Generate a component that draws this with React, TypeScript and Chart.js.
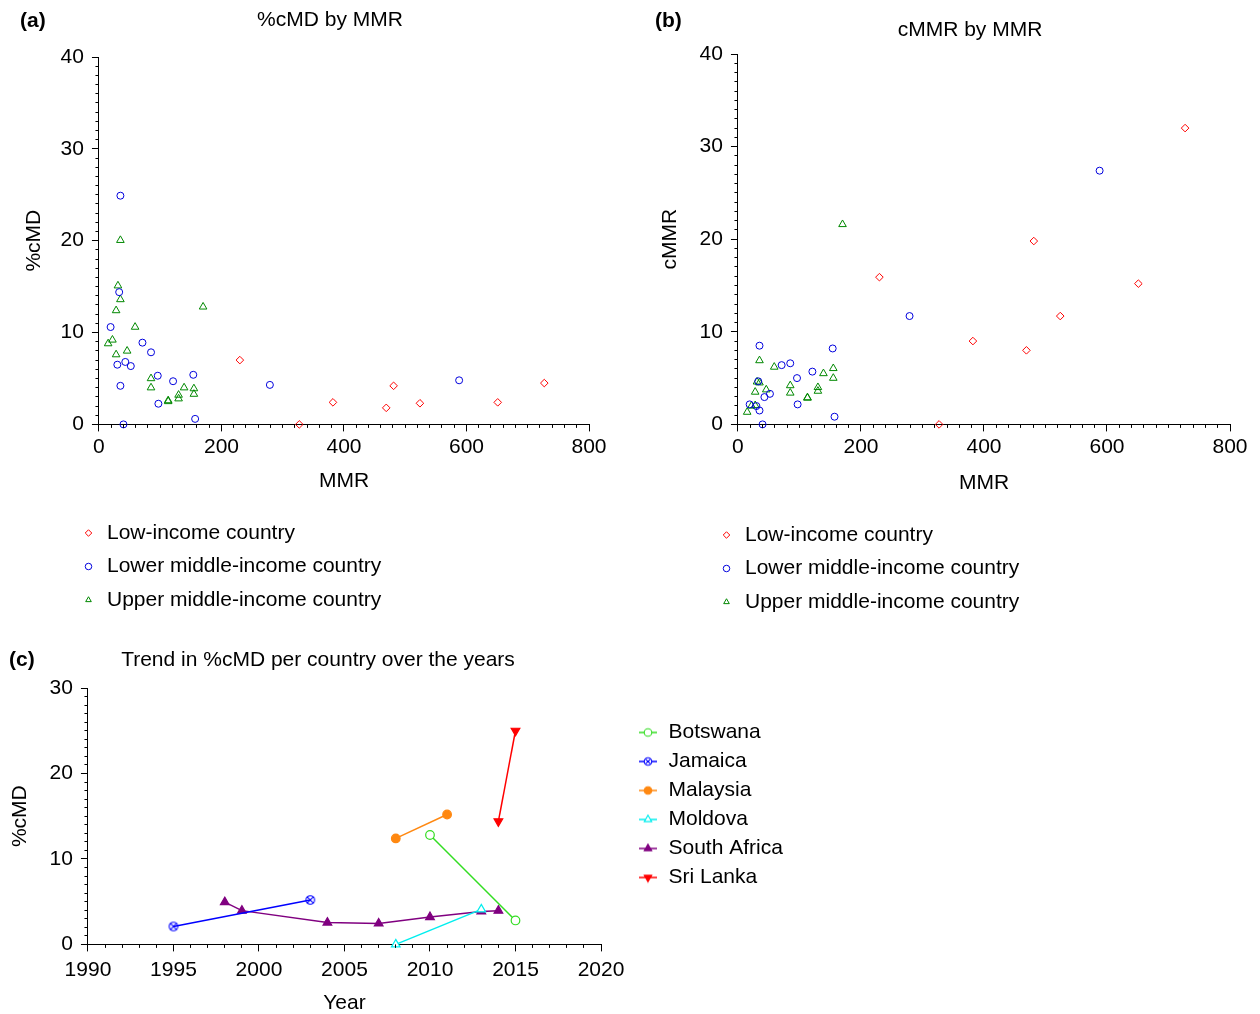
import React, { useEffect, useRef } from "react";
import { Chart, registerables } from "chart.js";

Chart.register(...registerables);

const FONT_FAMILY = '"Liberation Sans", Arial, Helvetica, sans-serif';
Chart.defaults.font.family = FONT_FAMILY;
Chart.defaults.font.size = 21;
Chart.defaults.color = "#000";

// ---------------- Panels (a) and (b) ----------------
const incomeLabels = ["Low-income country", "Lower middle-income country", "Upper middle-income country"];
const incomeColors = ["#ff0000", "#0000dd", "#008800"];
const incomeStyles = ["rectRot", "circle", "triangle"];
const incomeRadii = [3.8, 3.5, 4.4];

// Low-income countries
const lowMMR = [230, 327, 382, 469, 481, 524, 651, 727];
const lowCMD = [7.0, 0, 2.4, 1.8, 4.2, 2.3, 2.4, 4.5];
const lowCMMR = [15.9, 0, 9.0, 8.0, 19.8, 11.7, 15.2, 32.0];

// Lower middle-income countries
const lmMMR = [35, 33, 19, 71, 85, 30, 43, 52, 35, 96, 121, 154, 97, 157, 40, 279, 588];
const lmCMD = [24.9, 14.4, 10.6, 8.9, 7.85, 6.5, 6.8, 6.35, 4.2, 5.3, 4.7, 5.4, 2.25, 0.6, 0, 4.3, 4.8];
const lmCMMR = [8.5, 4.65, 2.16, 6.4, 6.6, 1.98, 2.95, 3.3, 1.5, 5.0, 5.7, 8.2, 2.16, 0.83, 0, 11.7, 27.4];

// Upper middle-income countries
const umMMR = [35, 31, 35, 28, 170, 59, 22, 15, 28, 46, 85, 85, 113, 113, 130, 130, 139, 155, 155];
const umCMD = [20.05, 15.1, 13.6, 12.4, 12.8, 10.6, 9.2, 8.8, 7.6, 8.0, 5.0, 4.0, 2.6, 2.5, 3.2, 2.8, 4.0, 3.9, 3.3];
const umCMMR = [6.9, 4.6, 4.5, 3.5, 21.6, 6.2, 2.0, 1.33, 2.05, 3.75, 4.2, 3.4, 2.9, 2.85, 4.0, 3.6, 5.5, 6.05, 5.0];

const groupMMR = [lowMMR, lmMMR, umMMR];
const groupCMD = [lowCMD, lmCMD, umCMD];
const groupCMMR = [lowCMMR, lmCMMR, umCMMR];

const mmrTicks = [0, 200, 400, 600, 800];
const pctTicks = [0, 10, 20, 30, 40];

// ---------------- Panel (c) ----------------
const countries = ["Botswana", "Jamaica", "Malaysia", "Moldova", "South Africa", "Sri Lanka"];
const countryColors = ["#33dd22", "#0000ff", "#ff8811", "#00eeee", "#800080", "#ff0000"];
const countryMarkers = ["circle", "circleX", "circle", "triangle", "triangle", "triangleDown"];
const countryFilled = [false, false, true, false, true, true];

const botswanaYears = [2010, 2015];
const botswanaCMD = [12.8, 2.8];
const jamaicaYears = [1995, 2003];
const jamaicaCMD = [2.1, 5.2];
const malaysiaYears = [2008, 2011];
const malaysiaCMD = [12.4, 15.2];
const moldovaYears = [2008, 2013];
const moldovaCMD = [0, 4.1];
const southAfricaYears = [1998, 1999, 2004, 2007, 2010, 2013, 2014];
const southAfricaCMD = [4.95, 3.95, 2.55, 2.45, 3.2, 3.85, 3.95];
const sriLankaYears = [2014, 2015];
const sriLankaCMD = [14.4, 25.0];

const trendYears = [botswanaYears, jamaicaYears, malaysiaYears, moldovaYears, southAfricaYears, sriLankaYears];
const trendCMD = [botswanaCMD, jamaicaCMD, malaysiaCMD, moldovaCMD, southAfricaCMD, sriLankaCMD];

const yearTicks = [1990, 1995, 2000, 2005, 2010, 2015, 2020];
const trendTicks = [0, 10, 20, 30];

// ---------------- helpers ----------------
const minorTicksPlugin = {
  id: "minorTicks",
  afterDraw(chart: any, _args: any, opts: any) {
    const list = opts && opts.axes;
    if (!list) return;
    const { ctx, chartArea } = chart;
    ctx.save();
    ctx.strokeStyle = "#000";
    ctx.lineWidth = 1;
    ctx.beginPath();
    for (let k = 0; k < list.length; k++) {
      const a = list[k];
      const s = chart.scales[a.id];
      if (!s) continue;
      const n = Math.round((s.max - s.min) / a.step);
      for (let i = 0; i <= n; i++) {
        const p = Math.round(s.getPixelForValue(s.min + i * a.step) - 0.5) + 0.5;
        if (s.isHorizontal()) {
          ctx.moveTo(p, chartArea.bottom);
          ctx.lineTo(p, chartArea.bottom + a.len);
        } else {
          ctx.moveTo(chartArea.left, p);
          ctx.lineTo(chartArea.left - a.len, p);
        }
      }
    }
    ctx.stroke();
    ctx.restore();
  },
};

function drawMarker(g: CanvasRenderingContext2D, type: string, x: number, y: number, r: number, color: string, fill: string, lw: number) {
  g.save();
  g.strokeStyle = color;
  g.fillStyle = fill;
  g.lineWidth = lw;
  g.beginPath();
  if (type === "circle" || type === "circleX") {
    g.arc(x, y, r, 0, Math.PI * 2);
  } else {
    const s = type === "triangle" ? 1 : -1;
    g.moveTo(x, y - s * r);
    g.lineTo(x + 0.866 * r, y + s * 0.5 * r);
    g.lineTo(x - 0.866 * r, y + s * 0.5 * r);
    g.closePath();
  }
  g.fill();
  g.stroke();
  if (type === "circleX") {
    const d = r * Math.SQRT1_2;
    g.beginPath();
    g.moveTo(x - d, y - d);
    g.lineTo(x + d, y + d);
    g.moveTo(x + d, y - d);
    g.lineTo(x - d, y + d);
    g.stroke();
  }
  g.restore();
}

function circleXImage(color: string, r: number) {
  const size = 12;
  const c = document.createElement("canvas");
  c.width = size;
  c.height = size;
  const g = c.getContext("2d")!;
  drawMarker(g, "circleX", size / 2, size / 2, r, color, "rgba(0,0,0,0)", 1.1);
  return c;
}

function legendIcon(k: number) {
  const c = document.createElement("canvas");
  c.width = 18;
  c.height = 12;
  const g = c.getContext("2d")!;
  g.strokeStyle = countryColors[k];
  g.lineWidth = 1.5;
  g.beginPath();
  g.moveTo(0, 6);
  g.lineTo(18, 6);
  g.stroke();
  const fill = countryFilled[k] ? countryColors[k] : "#ffffff";
  const r = countryMarkers[k].startsWith("tri") ? 4.3 : 3.8;
  drawMarker(g, countryMarkers[k], 9, 6, r, countryColors[k], fill, 1.1);
  return c;
}

const tickCb = (v: any) => String(v);

function axisX(ticks: number[], title: string, tickPad: number, titlePad: any) {
  return {
    type: "linear",
    position: "bottom",
    min: ticks[0],
    max: ticks[ticks.length - 1],
    ticks: { stepSize: ticks[1] - ticks[0], padding: tickPad, callback: tickCb, autoSkip: false, maxRotation: 0, color: "#000" },
    grid: { display: true, drawOnChartArea: false, drawTicks: true, tickLength: 7, tickColor: "#000", color: "#000" },
    border: { display: true, color: "#000", width: 1 },
    title: { display: true, text: title, padding: titlePad, color: "#000" },
  };
}

function axisY(ticks: number[], title: string, titlePad: any) {
  return {
    type: "linear",
    position: "left",
    min: ticks[0],
    max: ticks[ticks.length - 1],
    ticks: { stepSize: ticks[1] - ticks[0], padding: 8, callback: tickCb, color: "#000" },
    grid: { display: true, drawOnChartArea: false, drawTicks: true, tickLength: 7, tickColor: "#000", color: "#000" },
    border: { display: true, color: "#000", width: 1 },
    title: { display: true, text: title, padding: titlePad, color: "#000" },
  };
}

function spacerAxis(width: number) {
  return {
    type: "linear",
    position: "right",
    display: true,
    grid: { display: false },
    border: { display: false },
    ticks: { display: false },
    afterFit: (s: any) => {
      s.width = width;
    },
  };
}

function incomeDatasets(values: number[][]) {
  return incomeLabels.map((label, g) => ({
    label,
    data: groupMMR[g].map((x, i) => ({ x, y: values[g][i] })),
    pointStyle: incomeStyles[g],
    pointRadius: incomeRadii[g],
    pointBorderWidth: 1,
    borderColor: incomeColors[g],
    backgroundColor: "rgba(0,0,0,0)",
    showLine: false,
    clip: false,
  }));
}

function scatterPanel(values: number[][], title: string, yTitle: string, titlePad: any, yTitlePad: any, xTitlePad: any, spacer: number) {
  return {
    type: "scatter",
    data: { datasets: incomeDatasets(values) },
    options: {
      responsive: false,
      maintainAspectRatio: false,
      animation: false,
      layout: { padding: 0 },
      plugins: {
        legend: { display: false },
        tooltip: { enabled: false },
        title: { display: true, text: title, font: { size: 21, weight: "normal" }, color: "#000", padding: titlePad },
        minorTicks: { axes: [{ id: "x", step: 20, len: 3.5 }, { id: "y", step: 1, len: 3.5 }] },
      },
      scales: {
        x: axisX(mmrTicks, "MMR", 3, xTitlePad),
        y: axisY(pctTicks, yTitle, yTitlePad),
        yR: spacerAxis(spacer),
      },
    },
    plugins: [minorTicksPlugin],
  };
}

const makePanelA = () =>
  scatterPanel(groupCMD, "%cMD by MMR", "%cMD", { top: 7.4, bottom: 24.4 }, { top: 21.4, bottom: 6 }, { top: 6.2, bottom: 4 }, 71);

const makePanelB = () =>
  scatterPanel(groupCMMR, "cMMR by MMR", "cMMR", { top: 17.4, bottom: 11.4 }, { top: 17.4, bottom: 9 }, { top: 8.2, bottom: 4 }, 70);

const makePanelC = () => ({
  type: "scatter",
  data: {
    datasets: countries.map((label, k) => ({
      label,
      data: trendYears[k].map((x, i) => ({ x, y: trendCMD[k][i] })),
      showLine: true,
      borderColor: countryColors[k],
      borderWidth: 1.5,
      backgroundColor: countryFilled[k] ? countryColors[k] : "#ffffff",
      pointStyle:
        countryMarkers[k] === "circleX"
          ? circleXImage(countryColors[k], 4.3)
          : countryMarkers[k] === "triangleDown"
          ? "triangle"
          : countryMarkers[k],
      pointRotation: countryMarkers[k] === "triangleDown" ? 180 : 0,
      pointRadius: countryMarkers[k].startsWith("tri") ? 5 : 4.3,
      pointBorderWidth: 1.2,
      clip: false,
    })),
  },
  options: {
    responsive: false,
    maintainAspectRatio: false,
    animation: false,
    layout: { padding: 0 },
    plugins: {
      legend: { display: false },
      tooltip: { enabled: false },
      title: {
        display: true,
        text: "Trend in %cMD per country over the years",
        font: { size: 21, weight: "normal" },
        color: "#000",
        padding: { top: 17.4, bottom: 15.4 },
      },
      minorTicks: { axes: [{ id: "x", step: 1, len: 3.5 }, { id: "y", step: 1, len: 3.5 }] },
    },
    scales: {
      x: axisX(yearTicks, "Year", 6.4, { top: 1.4, bottom: 0 }),
      y: axisY(trendTicks, "%cMD", { top: 7.4, bottom: 9 }),
      yR: spacerAxis(35),
    },
  },
  plugins: [minorTicksPlugin],
});

function legendOnly(items: any[], boxWidth: number, boxHeight: number, padding: number) {
  return {
    type: "scatter",
    data: { datasets: [] },
    options: {
      responsive: false,
      maintainAspectRatio: false,
      animation: false,
      layout: { padding: 0 },
      scales: { x: { display: false }, y: { display: false } },
      plugins: {
        tooltip: { enabled: false },
        title: { display: false },
        legend: {
          display: true,
          position: "left",
          align: "start",
          labels: {
            usePointStyle: true,
            boxWidth,
            boxHeight,
            padding,
            font: { size: 21 },
            color: "#000",
            generateLabels: () => items,
          },
        },
      },
    },
  };
}

const makeIncomeLegend = () =>
  legendOnly(
    incomeLabels.map((text, g) => ({
      text,
      fillStyle: "rgba(0,0,0,0)",
      strokeStyle: incomeColors[g],
      fontColor: "#000",
      lineWidth: 1,
      pointStyle: incomeStyles[g],
      rotation: 0,
      hidden: false,
      datasetIndex: g,
    })),
    16,
    4.6,
    12.5
  );

const makeCountryLegend = () =>
  legendOnly(
    countries.map((text, k) => ({
      text,
      fillStyle: countryColors[k],
      strokeStyle: countryColors[k],
      fontColor: "#000",
      lineWidth: 1,
      pointStyle: legendIcon(k),
      rotation: 0,
      hidden: false,
      datasetIndex: k,
    })),
    20,
    12,
    8
  );

function ChartBox(props: { left: number; top: number; width: number; height: number; make: () => any }) {
  const ref = useRef<HTMLCanvasElement>(null);
  useEffect(() => {
    const chart = new Chart(ref.current as HTMLCanvasElement, props.make() as any);
    return () => chart.destroy();
  }, []);
  return (
    <canvas
      ref={ref}
      width={props.width}
      height={props.height}
      style={{ position: "absolute", left: props.left, top: props.top, width: props.width, height: props.height }}
    />
  );
}

function PanelLetter(props: { text: string; left: number; top: number }) {
  return (
    <span
      style={{
        position: "absolute",
        left: props.left,
        top: props.top,
        font: `bold 21px ${FONT_FAMILY}`,
        lineHeight: "24px",
        color: "#000",
        whiteSpace: "nowrap",
      }}
    >
      {props.text}
    </span>
  );
}

export default function App() {
  return (
    <div
      style={{
        position: "absolute",
        left: 0,
        top: 0,
        width: 1260,
        height: 1014,
        overflow: "hidden",
        background: "#ffffff",
      }}
    >
      <ChartBox left={0} top={0} width={660} height={498} make={makePanelA} />
      <ChartBox left={640} top={0} width={660} height={500} make={makePanelB} />
      <ChartBox left={68} top={510} width={800} height={130} make={makeIncomeLegend} />
      <ChartBox left={706} top={512} width={800} height={130} make={makeIncomeLegend} />
      <ChartBox left={0} top={630} width={636} height={386} make={makePanelC} />
      <ChartBox left={630} top={714} width={500} height={200} make={makeCountryLegend} />
      <PanelLetter text="(a)" left={20} top={8} />
      <PanelLetter text="(b)" left={655} top={8} />
      <PanelLetter text="(c)" left={9} top={647} />
    </div>
  );
}
